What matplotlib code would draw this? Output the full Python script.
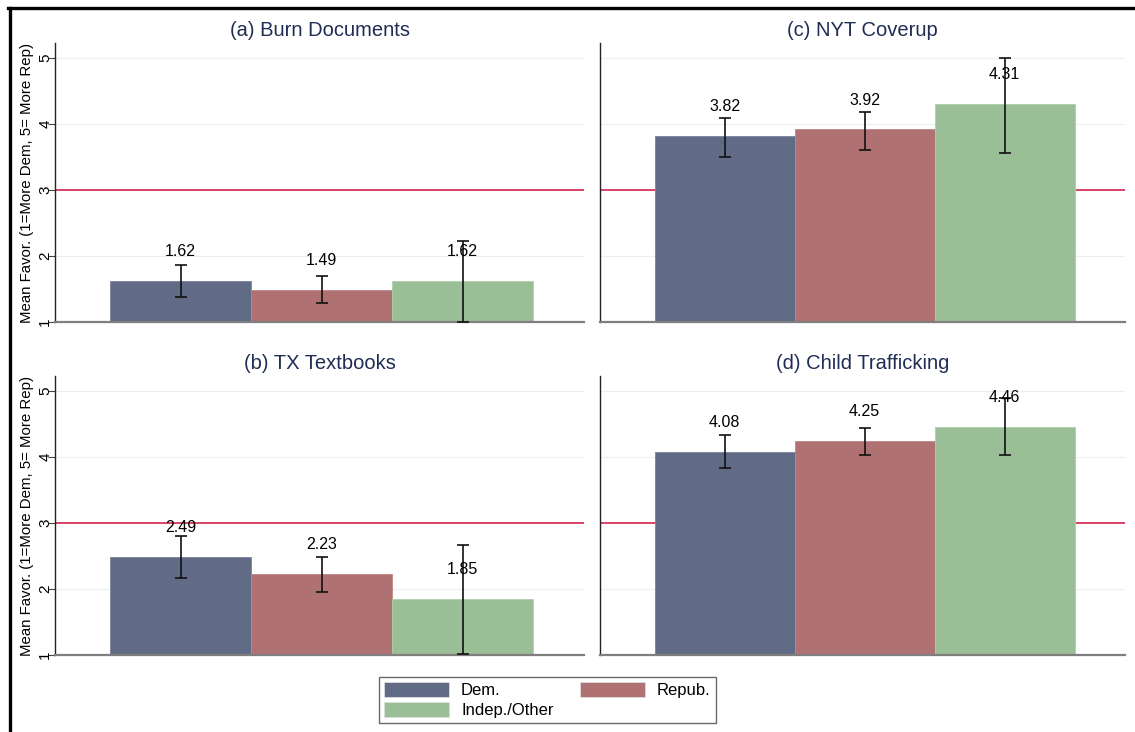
import matplotlib.pyplot as plt
from matplotlib.lines import Line2D
from matplotlib.patches import Patch
import numpy as np

plt.rcParams["font.family"] = ["Liberation Sans", "DejaVu Sans"]

groups = ["Dem.", "Repub.", "Indep./Other"]
colors = ["#626b86", "#b07172", "#9abf96"]

titles = ["(a) Burn Documents", "(b) TX Textbooks", "(c) NYT Coverup", "(d) Child Trafficking"]
burn_means = [1.62, 1.49, 1.62]
textbook_means = [2.49, 2.23, 1.85]
nyt_means = [3.82, 3.92, 4.31]
child_means = [4.08, 4.25, 4.46]

burn_lo = [1.38, 1.29, 1.00]
textbook_lo = [2.16, 1.95, 1.02]
nyt_lo = [3.50, 3.61, 3.56]
child_lo = [3.83, 4.03, 4.03]

burn_hi = [1.87, 1.70, 2.23]
textbook_hi = [2.81, 2.49, 2.67]
nyt_hi = [4.10, 4.19, 5.00]
child_hi = [4.33, 4.44, 4.89]

panel_means = [burn_means, textbook_means, nyt_means, child_means]
panel_lo = [burn_lo, textbook_lo, nyt_lo, child_lo]
panel_hi = [burn_hi, textbook_hi, nyt_hi, child_hi]

fig = plt.figure(figsize=(11.35, 7.32), dpi=100)

# left, bottom and width in pixels: a (top-left), b (bottom-left), c (top-right), d (bottom-right)
W, H = 1135, 732
boxes = [
    (55, 322, 529),
    (55, 655, 529),
    (600, 322, 525),
    (600, 655, 525),
]
ax_h = 279

x = np.arange(3)
for i, (left, bottom, width) in enumerate(boxes):
    ax = fig.add_axes([left / W, 1 - bottom / H, width / W, ax_h / H])
    means = np.array(panel_means[i])
    lo = np.array(panel_lo[i])
    hi = np.array(panel_hi[i])

    for y in [1, 2, 4, 5]:
        ax.axhline(y, color="#e8f0f2", lw=0.9, zorder=0)
    ax.axhline(3, color="#d0103a", lw=1.1, zorder=1)

    ax.bar(x, means - 1, bottom=1, width=1.0, color=colors,
           edgecolor=["#7a82a0", "#c08586", "#acd0a8"], linewidth=0.6, zorder=2)
    ax.errorbar(x, means, yerr=[means - lo, hi - means], fmt="none",
                ecolor="#111111", elinewidth=1.2, capsize=4, capthick=1.2, zorder=3)
    for xi, m in zip(x, means):
        ax.annotate(f"{m:.2f}", (xi, m), xytext=(0, 21), textcoords="offset points",
                    ha="center", va="center", fontsize=11.5, color="black", zorder=4)

    ax.set_xlim(-0.89, 2.86)
    ax.set_ylim(1, 5.23)
    ax.set_xticks([])
    ax.set_title(titles[i], fontsize=14.5, color="#1f2d55", pad=5)

    for side in ["top", "right"]:
        ax.spines[side].set_visible(False)
    ax.spines["left"].set_color("#222222")
    ax.spines["left"].set_linewidth(1.0)
    ax.spines["bottom"].set_color("#7f7f7f")
    ax.spines["bottom"].set_linewidth(1.6)

    if i < 2:
        ax.set_yticks([1, 2, 3, 4, 5])
        ax.set_yticklabels(["1", "2", "3", "4", "5"], rotation=90, va="center")
        ax.tick_params(axis="y", length=5, width=0.8, color="#444444", labelsize=11, pad=-3)
        ax.set_ylabel("Mean Favor. (1=More Dem, 5= More Rep)", fontsize=10.8)
        ax.yaxis.set_label_coords(-21 / width, 0.5)
    else:
        ax.set_yticks([])

handles = [Patch(facecolor=c, edgecolor="#dddddd", linewidth=0.6) for c in colors]
# reorder so the legend reads Dem. / Repub. on the first row
order = [0, 2, 1]
fig.legend([handles[k] for k in order], [groups[k] for k in order],
           loc="center", bbox_to_anchor=(547.5 / W, 1 - 700 / H), ncol=2,
           fontsize=12, frameon=True, fancybox=False, edgecolor="#444444",
           handlelength=3.9, handleheight=1.05, columnspacing=1.6,
           handletextpad=0.7, labelspacing=0.2, borderpad=0.3)

# outer frame along the top and left edges
fig.add_artist(Line2D([9.5 / W, 9.5 / W], [0, 1 - 8 / H], color="black", lw=2.4,
                      transform=fig.transFigure))
fig.add_artist(Line2D([8 / W, 1], [1 - 8 / H, 1 - 8 / H], color="black", lw=2.4,
                      transform=fig.transFigure))

fig.savefig("out.png", dpi=100)
